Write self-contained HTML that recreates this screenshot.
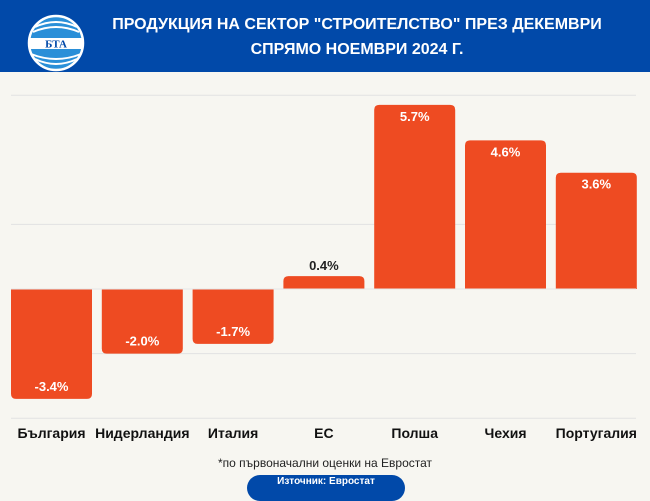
<!DOCTYPE html>
<html><head><meta charset="utf-8"><style>
body{margin:0;width:650px;height:487px;overflow:hidden;font-family:"Liberation Sans",sans-serif;background:#f7f6f1;position:relative}
.hdr{position:absolute;left:0;top:0;width:650px;height:72px;background:#0149a9;color:#fff;text-align:center;font-weight:bold;font-size:16px;line-height:25px;padding-top:12px;box-sizing:border-box}
.hdr div{padding-left:64px}
</style></head><body>
<div class="hdr">
<svg style="position:absolute;left:27px;top:14px" width="58" height="58" viewBox="0 0 58 58"><circle cx="29" cy="29" r="27" fill="#2a8fd8" stroke="#fff" stroke-width="2.5"/><path d="M6 18Q29 8 52 18M4 40Q29 50 54 40M8 13Q29 3 50 13M8 45Q29 55 50 45" stroke="#fff" fill="none" stroke-width="2"/><rect x="3" y="24" width="52" height="11" fill="#fff"/><text x="29" y="33.5" font-size="11" font-weight="bold" fill="#0149a9" text-anchor="middle" font-family="Liberation Serif">БТА</text></svg>
<div>ПРОДУКЦИЯ НА СЕКТОР "СТРОИТЕЛСТВО" ПРЕЗ ДЕКЕМВРИ<br>СПРЯМО НОЕМВРИ 2024 Г.</div>
</div>
<svg id="chart" width="650" height="487" style="position:absolute;left:0;top:0"></svg>
<div style="position:absolute;left:0;width:650px;top:456px;text-align:center;font-size:12px;color:#222">*по първоначални оценки на Евростат</div>
<div style="position:absolute;left:247px;top:475px;width:158px;height:26px;border-radius:13px;background:#0149a9;color:#fff;font-size:10px;font-weight:bold;text-align:center;line-height:14px">Източник: Евростат</div>
<script>
const categories=["България","Нидерландия","Италия","ЕС","Полша","Чехия","Португалия"];
const values=[-3.4,-2.0,-1.7,0.4,5.7,4.6,3.6];
const gridTicks=[6,2,-2,-4];
const svg=document.getElementById('chart');
const NS="http://www.w3.org/2000/svg";
const y0=289,k=32.3,x0=11,pitch=90.8,bw=81;
const y=v=>y0-v*k;
const x=i=>x0+i*pitch;
function mk(t,a){const e=document.createElementNS(NS,t);for(const n in a)e.setAttribute(n,a[n]);svg.appendChild(e);return e;}
gridTicks.forEach(t=>{const l=mk('line',{x1:11,x2:636,y1:y(t),y2:y(t),stroke:'#e2e2e2','stroke-width':1});

});
values.forEach((v,i)=>{
 const top=Math.min(y(v),y0),h=Math.abs(y(v)-y0);
 const p=mk('path',{fill:'#ee4b22'});
 const X=x(i),r=5;
 let d;
 if(v>=0)d=`M${X},${y0}V${top+r}Q${X},${top} ${X+r},${top}H${X+bw-r}Q${X+bw},${top} ${X+bw},${top+r}V${y0}Z`;
 else{const b=top+h;d=`M${X},${y0}V${b-r}Q${X},${b} ${X+r},${b}H${X+bw-r}Q${X+bw},${b} ${X+bw},${b-r}V${y0}Z`;}
 p.setAttribute('d',d);
 
 
 const lab=v.toFixed(1)+'%';
 let ly,col;
 if(v>=0&&h<25){ly=top-6;col='#222';}else if(v>=0){ly=top+16;col='#fff';}else{ly=top+h-8;col='#fff';}
 const t=mk('text',{x:X+bw/2,y:ly,'text-anchor':'middle','font-size':13,'font-weight':'bold',fill:col});
 t.textContent=lab;
 
 
 const c=mk('text',{x:X+bw/2,y:438,'text-anchor':'middle','font-size':14,'font-weight':'bold',fill:'#111'});
 c.textContent=categories[i];
 
 
});
mk('line',{x1:11,x2:636,y1:y0,y2:y0,stroke:'#e6e6e6','stroke-width':1});
</script>
</body></html>
